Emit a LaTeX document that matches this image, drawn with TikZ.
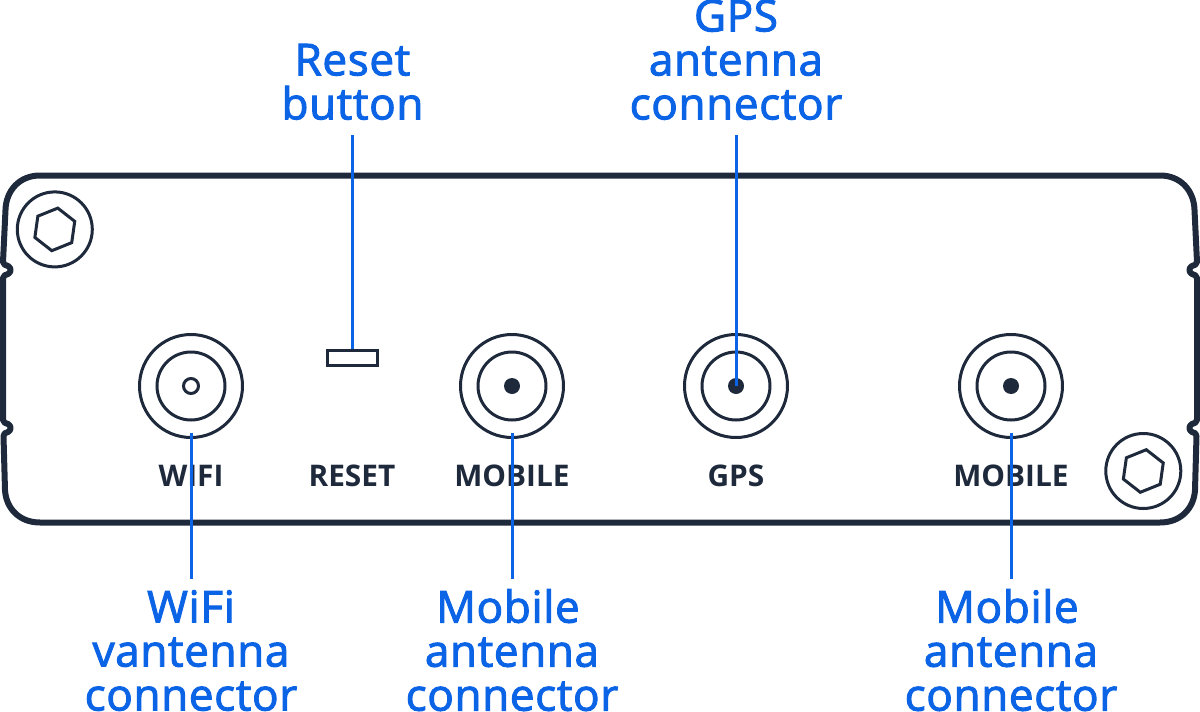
\documentclass[tikz,border=0pt]{standalone}
\usepackage{fontspec}
\setmainfont{Open Sans}
\newfontfamily\calloutfont[FakeBold=2.2,LetterSpace=1.5]{Open Sans}
\usetikzlibrary{shapes.geometric}
\definecolor{bodyink}{HTML}{1E2A3C}
\definecolor{calloutblue}{HTML}{0B63E5}
\tikzset{
    casing/.style={draw=bodyink, line width=6pt, line join=round},
    ring/.style={draw=bodyink, line width=3pt, circle, inner sep=0pt},
    hexhead/.style={draw=bodyink, line width=3pt, regular polygon, regular polygon sides=6, rotate=22, inner sep=0pt, minimum size=43pt},
    silk/.style={text=bodyink, font=\fontsize{29.8}{32}\selectfont\bfseries, inner sep=0pt},
    callout/.style={text=calloutblue, font=\fontsize{44}{44}\selectfont\calloutfont, align=center, inner xsep=0pt},
    leader/.style={draw=calloutblue, line width=3pt}
}
\begin{document}
\begin{tikzpicture}[x=1pt,y=-1pt]
    \useasboundingbox (0,0) rectangle (1200,712);

    % casing outline
    \draw[casing] (40,175.5) -- (1160,175.5)
        .. controls (1181,175.5) and (1194,191) .. (1194.5,210)
        -- (1197,262) .. controls (1197,265) and (1194,265) .. (1192,266)
        .. controls (1188.5,268) and (1188.5,272) .. (1192,274)
        .. controls (1194,275) and (1197,275) .. (1197,278)
        -- (1197,420) .. controls (1197,423) and (1194,423) .. (1192,424)
        .. controls (1188.5,426) and (1188.5,430) .. (1192,432)
        .. controls (1194,433) and (1197,433) .. (1196.5,436)
        -- (1195,490) .. controls (1194,508) and (1181,522.5) .. (1160,522.5)
        -- (40,522.5)
        .. controls (19,522.5) and (6,508) .. (5,490)
        -- (3.5,436) .. controls (3,433) and (6,433) .. (8,432)
        .. controls (11.5,430) and (11.5,426) .. (8,424)
        .. controls (6,423) and (3,423) .. (3,420)
        -- (3,278) .. controls (3,275) and (6,275) .. (8,274)
        .. controls (11.5,272) and (11.5,268) .. (8,266)
        .. controls (6,265) and (3,265) .. (3,262)
        -- (5.5,210) .. controls (6,191) and (19,175.5) .. (40,175.5) -- cycle;

    % screws
    \node[ring, minimum size=75pt] (screwtl) at (54.8,229.4) {};
    \node[hexhead] (hextl) at (54.8,229.4) {};
    \node[ring, minimum size=75pt] (screwbr) at (1143.3,471) {};
    \node[hexhead] (hexbr) at (1143.3,471) {};

    % connectors on the panel
    \foreach \name/\px in {wifi/191, mobilea/512, gps/736, mobileb/1011}{
        \node[ring, minimum size=103pt] (\name port) at (\px,386) {};
        \node[ring, minimum size=68pt] (\name inner) at (\px,386) {};
    }
    \node[ring, minimum size=15pt] (wifipin) at (191,386) {};
    \foreach \name/\px in {mobilea/512, gps/736, mobileb/1011}{
        \node[circle, fill=bodyink, minimum size=16pt, inner sep=0pt] (\name pin) at (\px,386) {};
    }

    % reset button
    \node[draw=bodyink, line width=3pt, minimum width=50pt, minimum height=15pt, inner sep=0pt] (resetbtn) at (352.8,357.5) {};

    % panel print
    \node[silk] (wifitxt) at (191,476) {WIFI};
    \node[silk] (resettxt) at (352,476) {RESET};
    \node[silk] (mobileatxt) at (512,476) {MOBILE};
    \node[silk] (gpstxt) at (736,476) {GPS};
    \node[silk] (mobilebtxt) at (1011,476) {MOBILE};

    % labels
    \node[callout, anchor=south, inner ysep=15pt] (resetlabel) at (352.5,135) {Reset\\button};
    \node[callout, anchor=south, inner ysep=15pt] (gpslabel) at (736,135) {GPS\\antenna\\connector};
    \node[callout, anchor=north, inner ysep=11pt] (wifilabel) at (191,579) {WiFi\\vantenna\\connector};
    \node[callout, anchor=north, inner ysep=10pt] (mobilealabel) at (512,579) {Mobile\hspace*{8pt}\\antenna\\connector};
    \node[callout, anchor=north, inner ysep=10pt] (mobileblabel) at (1011,579) {Mobile\hspace*{8pt}\\antenna\\connector};

    % leaders
    \draw[leader] (resetlabel.south) -- (resetlabel.south |- resetbtn.north);
    \draw[leader] (gpslabel.south) -- (gpspin.center);
    \draw[leader] (wifilabel.north) -- ([yshift=6pt]wifiport.south);
    \draw[leader] (mobilealabel.north) -- ([yshift=6pt]mobileaport.south);
    \draw[leader] (mobileblabel.north) -- ([yshift=6pt]mobilebport.south);
\end{tikzpicture}
\end{document}
